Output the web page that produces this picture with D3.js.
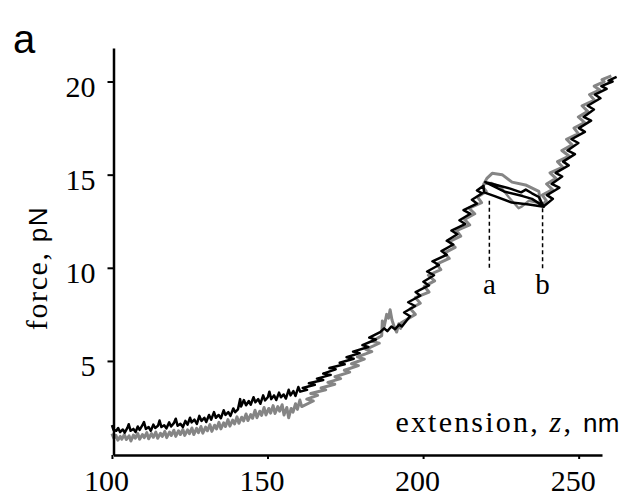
<!DOCTYPE html>
<html>
<head>
<meta charset="utf-8">
<script src="https://cdn.jsdelivr.net/npm/d3@7"></script>
<style>
body { margin: 0; background: #fff; }
</style>
</head>
<body>
<div id="container"></div>
<script>
// Chart dimensions
const width = 627;
const height = 496;

// Tick values
const xTicks = [100, 150, 200, 250];
const yTicks = [5, 10, 15, 20];

// Black trace: [extension nm, force pN]
const blackTrace = [
	[100.0, 1.55], [100.5, 1.30], [101.4, 1.25], [102.0, 1.40], [102.6, 1.18], [103.5, 1.32],
	[104.1, 1.15], [105.0, 1.42], [105.4, 1.60], [106.0, 1.25], [106.9, 1.35], [107.6, 1.18],
	[108.3, 1.48], [108.9, 1.30], [109.8, 1.55], [110.3, 1.72], [110.9, 1.35], [111.8, 1.45],
	[112.5, 1.25], [113.3, 1.58], [113.9, 1.40], [114.8, 1.52], [115.3, 1.80], [115.9, 1.45],
	[116.8, 1.55], [117.5, 1.38], [118.4, 1.70], [119.0, 1.48], [119.9, 1.66], [120.5, 1.90],
	[121.1, 1.52], [122.0, 1.62], [122.8, 1.45], [123.6, 1.78], [124.3, 1.58], [125.1, 1.95],
	[125.6, 1.70], [126.5, 1.85], [127.3, 1.62], [128.1, 2.05], [128.8, 1.78], [129.7, 1.95],
	[130.3, 1.72], [131.2, 2.10], [131.9, 1.85], [132.8, 2.25], [133.4, 1.95], [134.3, 2.10],
	[135.0, 1.92], [135.9, 2.35], [136.5, 2.10], [137.4, 2.25], [138.1, 2.05], [139.0, 2.45],
	[139.6, 2.25], [140.5, 2.40], [141.2, 2.95], [141.5, 2.55], [142.4, 2.90], [143.1, 2.62],
	[144.0, 2.85], [144.6, 2.65], [145.5, 3.05], [146.1, 2.78], [147.0, 2.95], [147.7, 2.70],
	[148.6, 3.15], [149.2, 2.88], [150.1, 3.05], [150.6, 3.35], [151.2, 2.95], [152.1, 3.15],
	[152.8, 2.90], [153.7, 3.30], [154.3, 3.05], [155.2, 3.20], [155.9, 2.98], [156.8, 3.45],
	[157.4, 3.15], [158.3, 3.38], [159.0, 3.12], [159.9, 3.60], [160.5, 3.35],
	[162.7, 3.45], [161.3, 3.55], [165.2, 3.72], [163.3, 3.80], [167.9, 3.98], [165.9, 4.05],
	[170.3, 4.25], [167.9, 4.32], [171.9, 4.55], [169.9, 4.62], [174.8, 4.82], [173.2, 4.90],
	[177.7, 5.12], [175.4, 5.20], [179.6, 5.42], [177.5, 5.50], [182.4, 5.75], [180.5, 5.85],
	[184.8, 6.15], [182.7, 6.25], [186.2, 6.55],
	[187.5, 6.75], [188.5, 6.60], [189.8, 6.85], [191.0, 6.70], [192.3, 6.95], [193.2, 6.85],
	[195.8, 7.40], [193.9, 7.60], [197.4, 7.95], [195.2, 8.15], [199.1, 8.50], [197.6, 8.70],
	[201.9, 9.05], [200.1, 9.25], [203.5, 9.60], [201.3, 9.80], [205.1, 10.15], [203.0, 10.35],
	[207.6, 10.70], [205.9, 10.90], [209.7, 11.25], [207.6, 11.45], [211.0, 11.80], [209.1, 12.00],
	[213.5, 12.35], [211.7, 12.55], [215.2, 12.90], [213.0, 13.10], [217.3, 13.45], [215.7, 13.65],
	[219.0, 14.00], [217.3, 14.15], [219.4, 14.40], [219.6, 14.05],
	[223.0, 13.85], [228.5, 13.50], [234.0, 13.40], [238.8, 13.28], [237.2, 13.80], [235.0, 14.00],
	[233.0, 14.20], [231.5, 14.05], [228.0, 14.25], [221.1, 14.55], [220.0, 14.60], [226.0, 14.10],
	[232.0, 13.85], [235.0, 13.70], [238.8, 13.30],
	[241.7, 13.70], [239.8, 13.90], [243.8, 14.30], [241.3, 14.50], [244.7, 14.90], [242.6, 15.10],
	[246.8, 15.50], [245.0, 15.70], [248.8, 16.10], [246.4, 16.30], [249.9, 16.70], [247.7, 16.90],
	[252.0, 17.30], [250.1, 17.50], [254.0, 17.90], [251.6, 18.10], [254.9, 18.50], [252.9, 18.70],
	[257.0, 19.10], [255.2, 19.30], [259.0, 19.60], [257.3, 19.75], [260.9, 20.00], [259.6, 20.05],
	[262.2, 20.25]
];

// Gray trace: [extension nm, force pN]
const grayTrace = [
	[100.0, 1.10], [100.6, 0.85], [101.3, 1.00], [101.9, 0.75], [102.7, 0.95], [103.2, 0.80],
	[104.0, 1.05], [104.6, 0.78], [105.5, 0.98], [106.1, 0.70], [106.9, 1.02], [107.5, 0.85],
	[108.3, 1.10], [108.9, 0.80], [109.8, 1.05], [110.4, 0.88], [111.2, 1.15], [111.8, 0.82],
	[112.7, 1.10], [113.3, 0.90], [114.1, 1.18], [114.7, 0.85], [115.6, 1.12], [116.2, 0.95],
	[117.0, 1.22], [117.6, 0.88], [118.5, 1.18], [119.1, 1.00], [119.9, 1.28], [120.5, 0.95],
	[121.4, 1.25], [122.0, 1.05], [122.8, 1.32], [123.4, 1.00], [124.3, 1.30], [124.9, 1.10],
	[125.7, 1.40], [126.3, 1.05], [127.2, 1.38], [127.8, 1.15], [128.6, 1.48], [129.2, 1.12],
	[130.1, 1.45], [130.7, 1.25], [131.5, 1.58], [132.1, 1.22], [133.0, 1.55], [133.6, 1.35],
	[134.4, 1.70], [135.0, 1.35], [135.9, 1.68], [136.5, 1.48], [137.3, 1.85], [137.9, 1.50],
	[138.8, 1.82], [139.4, 1.62], [140.2, 2.00], [140.8, 1.65], [141.7, 1.98], [142.3, 1.78],
	[143.1, 2.15], [143.7, 1.80], [144.6, 2.12], [145.2, 1.92], [146.0, 2.35], [146.6, 1.95],
	[147.5, 2.30], [148.1, 2.08], [148.9, 2.50], [149.5, 2.10], [150.4, 2.45], [151.0, 2.20],
	[151.8, 2.60], [152.4, 2.18], [153.3, 2.55], [153.9, 2.30], [154.7, 2.65], [155.3, 2.10],
	[156.2, 2.50], [156.8, 1.95], [157.6, 2.45], [158.2, 2.25], [159.0, 2.70], [159.6, 2.40],
	[160.4, 2.90], [161.0, 2.55],
	[164.7, 2.85], [162.6, 2.95], [166.1, 3.15], [163.9, 3.25], [168.7, 3.45], [167.2, 3.55],
	[171.6, 3.75], [169.4, 3.85], [173.5, 4.05], [171.7, 4.15], [176.4, 4.40], [174.7, 4.50],
	[179.2, 4.75], [177.0, 4.85], [181.1, 5.10], [178.9, 5.22], [183.5, 5.50], [181.6, 5.62],
	[185.9, 5.95], [183.6, 6.05], [186.7, 6.35],
	[186.9, 7.15], [187.5, 6.85], [188.3, 7.50], [188.9, 7.30], [189.4, 7.75], [190.0, 7.20],
	[190.8, 6.80], [191.5, 6.55], [192.2, 7.00], [192.8, 6.75], [193.0, 7.05],
	[197.5, 7.50], [195.9, 7.80], [199.1, 8.10], [197.5, 8.40], [201.9, 8.70], [200.4, 9.00],
	[203.7, 9.30], [201.7, 9.60], [205.7, 9.90], [204.4, 10.20], [208.4, 10.50], [206.9, 10.80],
	[210.3, 11.10], [208.4, 11.40], [212.1, 11.70], [210.7, 12.00], [215.0, 12.30], [213.3, 12.60],
	[216.6, 12.90], [214.8, 13.20], [218.8, 13.50], [217.5, 13.80], [220.3, 14.10], [219.4, 14.30],
	[219.5, 14.50],
	[220.5, 14.80], [222.2, 15.07], [225.4, 15.00], [228.6, 14.60], [232.9, 14.45], [237.2, 14.10],
	[237.7, 13.46], [238.3, 13.35],
	[239.6, 13.60], [238.3, 13.90], [241.6, 14.20], [239.7, 14.50], [242.7, 14.80], [240.8, 15.10],
	[244.9, 15.40], [243.2, 15.70], [246.9, 16.00], [244.6, 16.30], [247.9, 16.60], [246.1, 16.90],
	[249.9, 17.20], [248.5, 17.50], [251.9, 17.80], [249.9, 18.10], [252.9, 18.40], [251.1, 18.70],
	[255.1, 19.00], [253.5, 19.30], [256.8, 19.55], [255.0, 19.75], [258.2, 20.00], [257.5, 20.10],
	[260.5, 20.30]
];

// Gray return path between states a and b (lower side of the loop)
const grayHop = [
	[219.5, 14.50], [222.0, 14.55], [224.9, 14.35], [227.5, 13.80], [230.7, 13.20],
	[231.8, 13.30], [234.0, 13.60], [237.7, 13.46]
];

// State markers
const markerLabels = ["a", "b"];
const markerX = [221.3, 238.4];
const markerTop = [13.6, 13.2];
const markerBottom = 9.9;

// Scales
const x = d3.scaleLinear()
	.domain([100.5, 257.5])
	.range([113.5, 602]);

const y = d3.scaleLinear()
	.domain([-0.05, 21.8])
	.range([455, 48]);

const svg = d3.select("#container").append("svg")
	.attr("width", width)
	.attr("height", height)
	.style("display", "block");

const serif = "'Liberation Serif', 'Times New Roman', serif";
const sans = "'Liberation Sans', Arial, sans-serif";

// Traces
const line = d3.line()
	.x(d => x(d[0]))
	.y(d => y(d[1]));

svg.append("path")
	.datum(grayTrace)
	.attr("fill", "none")
	.attr("stroke", "#858585")
	.attr("stroke-width", 3)
	.attr("stroke-linejoin", "round")
	.attr("d", line);

svg.append("path")
	.datum(grayHop)
	.attr("fill", "none")
	.attr("stroke", "#858585")
	.attr("stroke-width", 2.4)
	.attr("stroke-linejoin", "round")
	.attr("d", line);

svg.append("path")
	.datum(blackTrace)
	.attr("fill", "none")
	.attr("stroke", "#000")
	.attr("stroke-width", 2.5)
	.attr("stroke-linejoin", "round")
	.attr("d", line);

// Dashed markers
svg.selectAll(".marker")
	.data(markerX)
	.join("line")
		.attr("class", "marker")
		.attr("x1", d => x(d))
		.attr("x2", d => x(d))
		.attr("y1", (d, i) => y(markerTop[i]))
		.attr("y2", y(markerBottom))
		.attr("stroke", "#000")
		.attr("stroke-width", 1.5)
		.attr("stroke-dasharray", "4,3");

svg.selectAll(".marker-label")
	.data(markerX)
	.join("text")
		.attr("class", "marker-label")
		.attr("x", d => x(d))
		.attr("y", y(markerBottom) + 24)
		.attr("text-anchor", "middle")
		.style("font-family", serif)
		.style("font-size", "29px")
		.text((d, i) => markerLabels[i]);

// Axes
const xAxis = svg.append("g")
	.attr("transform", `translate(0,${y.range()[0]})`)
	.call(d3.axisBottom(x).tickValues(xTicks).tickSize(4).tickSizeOuter(0).tickFormat(d3.format("d")));

const yAxis = svg.append("g")
	.attr("transform", `translate(${x.range()[0]},0)`)
	.call(d3.axisLeft(y).tickValues(yTicks).tickSize(6).tickSizeOuter(0).tickFormat(d3.format("d")));

[xAxis, yAxis].forEach(g => {
	g.select(".domain").attr("stroke-width", 2.5);
	g.selectAll(".tick line").attr("stroke-width", 2);
	g.selectAll(".tick text")
		.style("font-family", serif)
		.style("font-size", "30px")
		.attr("fill", "#000");
});

xAxis.selectAll(".tick text").attr("dy", "0.95em").attr("dx", -6);
yAxis.selectAll(".tick text").attr("dy", "0.5em").attr("x", -18);

// Axis titles
const yTitle = svg.append("text")
	.attr("transform", "translate(47,268) rotate(-90)")
	.attr("text-anchor", "middle")
	.style("font-size", "30px")
	.style("letter-spacing", "1.6px");
yTitle.append("tspan").style("font-family", serif).text("force, ");
yTitle.append("tspan").style("font-family", sans).style("font-size", "26px").text("pN");

const xTitle = svg.append("text")
	.attr("x", 620)
	.attr("y", 432)
	.attr("text-anchor", "end")
	.style("font-size", "30px")
	.style("letter-spacing", "2.2px");
xTitle.append("tspan").style("font-family", serif).text("extension, ");
xTitle.append("tspan").style("font-family", serif).style("font-style", "italic").text("z");
xTitle.append("tspan").style("font-family", serif).text(", ");
xTitle.append("tspan").style("font-family", sans).style("font-size", "26px").style("letter-spacing", "0.5px").text("nm");

// Panel label
svg.append("text")
	.attr("x", 13)
	.attr("y", 53)
	.style("font-family", sans)
	.style("font-size", "40px")
	.text("a");
</script>
</body>
</html>
